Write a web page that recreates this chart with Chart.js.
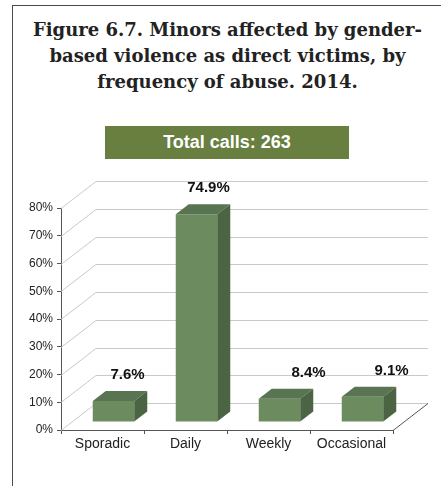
<!DOCTYPE html>
<html>
<head>
<meta charset="utf-8">
<script src="https://cdn.jsdelivr.net/npm/chart.js@4.4.1/dist/chart.umd.min.js"></script>
<style>
  html, body { margin: 0; padding: 0; background: #fff; }
  #wrap { position: relative; width: 441px; height: 486px; overflow: hidden; }
  #frame { position: absolute; left: 12px; top: 5px; width: 440px; height: 490px;
           border-left: 1.5px solid #4a4a4a; border-top: 1.5px solid #4a4a4a; }
  #titulo { position: absolute; left: 14px; width: 427px; top: 17px; text-align: center;
            font-family: "DejaVu Serif", serif; font-weight: bold; font-size: 18px;
            line-height: 26px; color: #222; }
  #total { position: absolute; left: 105px; top: 126px; width: 244px; height: 33px;
           background: #687f3f; color: #fff; font-family: "Liberation Sans", Arial, sans-serif;
           font-weight: bold; font-size: 18px; line-height: 33px; text-align: center; }
  canvas { position: absolute; left: 0; top: 0; }
</style>
</head>
<body>
<div id="wrap">
  <div id="frame"></div>
  <div id="titulo">Figure 6.7. Minors affected by gender-<br>based violence as direct victims, by<br>frequency of abuse. 2014.</div>
  <div id="total">Total calls: 263</div>
  <canvas id="grafico" width="441" height="486"></canvas>
</div>
<script>
const categorias = ['Sporadic', 'Daily', 'Weekly', 'Occasional'];
const percentagens = [7.6, 74.9, 8.4, 9.1];
const ticksY = [0, 10, 20, 30, 40, 50, 60, 70, 80];

// parede e chão em perspectiva
const paredeFundo = {
  id: 'paredeFundo',
  beforeDatasetsDraw(chart) {
    const { ctx, chartArea, scales } = chart;
    const dx = 35, dy = -27;
    const esq = chartArea.left, dir = chartArea.right;
    ctx.save();
    ctx.strokeStyle = '#c9c9c9';
    ctx.lineWidth = 1;
    ticksY.forEach(v => {
      const y = Math.round(scales.y.getPixelForValue(v)) + 0.5;
      ctx.beginPath();
      ctx.moveTo(esq, y);
      ctx.lineTo(esq + dx, y + dy);
      ctx.lineTo(dir + dx, y + dy);
      ctx.stroke();
    });
    const y0 = Math.round(scales.y.getPixelForValue(0)) + 0.5;
    ctx.strokeStyle = '#555';
    ctx.beginPath();
    ctx.moveTo(dir, y0);
    ctx.lineTo(dir + dx, y0 + dy);
    ctx.stroke();
    ctx.restore();

    // barras deslocadas para o meio da profundidade
    ctx.save();
    ctx.translate(11, -8);
  },
  afterDatasetsDraw(chart, args, opts) {
    const { ctx } = chart;
    const px = 13, py = -10;
    const meta = chart.getDatasetMeta(0);
    meta.data.forEach((bar, i) => {
      const l = bar.x - bar.width / 2, r = bar.x + bar.width / 2;
      const t = bar.y, b = bar.base;
      ctx.fillStyle = '#587450';
      ctx.beginPath();
      ctx.moveTo(l, t); ctx.lineTo(l + px, t + py); ctx.lineTo(r + px, t + py); ctx.lineTo(r, t);
      ctx.closePath(); ctx.fill();
      ctx.fillStyle = '#4b6443';
      ctx.beginPath();
      ctx.moveTo(r, t); ctx.lineTo(r + px, t + py); ctx.lineTo(r + px, b + py); ctx.lineTo(r, b);
      ctx.closePath(); ctx.fill();

      ctx.fillStyle = '#111';
      ctx.font = 'bold 15px "Liberation Sans", Arial, sans-serif';
      ctx.textAlign = 'center';
      ctx.textBaseline = 'middle';
      ctx.fillText(percentagens[i].toFixed(1) + '%', bar.x + px + opts.desvios[i], t + py - 16);
    });
    ctx.restore();
  }
};

function inicializarGrafico() {
  const ctx = document.getElementById('grafico').getContext('2d');
  new Chart(ctx, {
    type: 'bar',
    data: {
      labels: categorias,
      datasets: [{
        data: percentagens,
        backgroundColor: '#6c8b5f',
        borderWidth: 0,
        categoryPercentage: 1,
        barPercentage: 0.5
      }]
    },
    options: {
      responsive: false,
      animation: false,
      events: [],
      layout: { padding: { left: 21, top: 208, right: 48, bottom: 26 } },
      plugins: {
        legend: { display: false },
        tooltip: { enabled: false },
        paredeFundo: { desvios: [1, -1, 16, 16] }
      },
      scales: {
        x: {
          grid: { display: true, drawOnChartArea: false, tickLength: 4, color: '#555', offset: true },
          border: { color: '#555', width: 1 },
          ticks: { color: '#222', font: { family: '"Liberation Sans", Arial, sans-serif', size: 14 }, padding: 2, maxRotation: 0 },
          afterFit(s) { s.height = 30; }
        },
        y: {
          min: 0,
          max: 80,
          grid: { display: true, drawOnChartArea: false, tickLength: 4, color: '#555' },
          border: { color: '#555', width: 1 },
          ticks: {
            stepSize: 10,
            color: '#222',
            padding: 4,
            font: { family: '"Liberation Sans", Arial, sans-serif', size: 12 },
            callback: v => v + '%'
          },
          afterFit(s) { s.width = 40; }
        }
      }
    },
    plugins: [paredeFundo]
  });
}

window.onload = () => {
  inicializarGrafico();
};
</script>
</body>
</html>
